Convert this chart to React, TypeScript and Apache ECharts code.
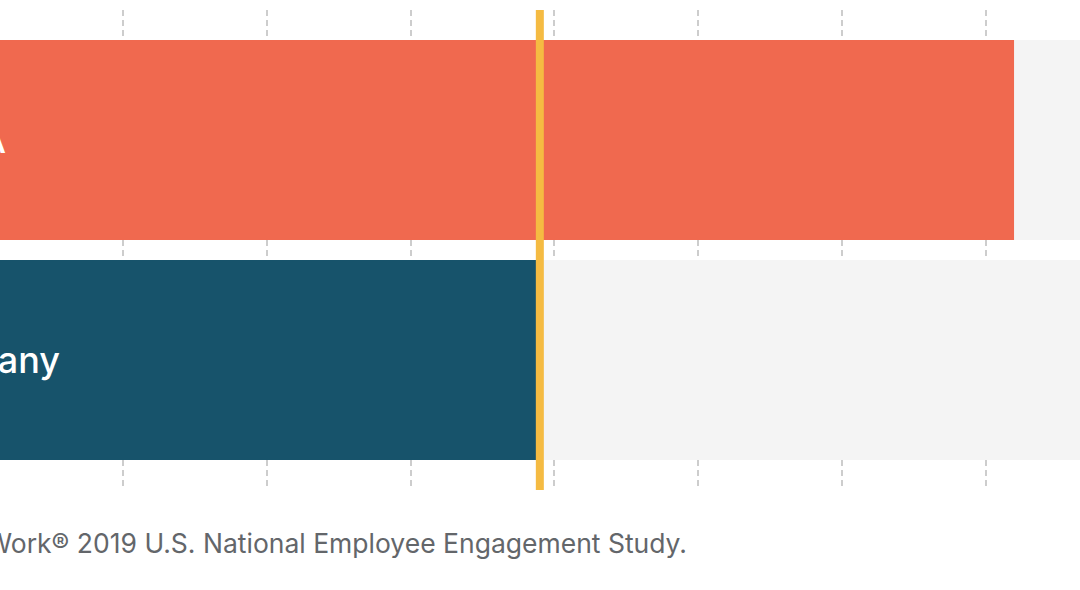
import React, { useEffect, useRef } from "react";
import * as echarts from "echarts";

// ---- data ----
const categories: string[] = ["Best Workplaces in the USA", "Typical U.S. Company"];
const values: number[] = [92, 59];
const averageValue = 59;
const axisMin = 0;
const axisMax = 100;
const axisInterval = 10;
const barColors: string[] = ["#F0694F", "#17536B"];
const footnote = "Source: Great Place to Work® 2019 U.S. National Employee Engagement Study.";

// ---- layout (chart canvas is wider than the viewport and shifted left) ----
const SHIFT = 400;
const CHART_W = 1600;
const CHART_H = 590;
const labelEnds = [314, 368];

export default function App() {
  const ref = useRef<HTMLDivElement>(null);

  useEffect(() => {
    if (!ref.current) return;
    const chart = echarts.init(ref.current, undefined, { renderer: "svg" });
    const option: any = {
      animation: false,
      backgroundColor: "#ffffff",
      grid: [
        { left: 92, right: 71, top: 10, bottom: 100 },
        { left: 92, right: 71, top: 30, bottom: 120 },
      ],
      xAxis: [
        {
          gridIndex: 0,
          type: "value",
          min: axisMin,
          max: axisMax,
          interval: axisInterval,
          axisLabel: { show: false },
          axisLine: { show: false },
          axisTick: { show: false },
          splitLine: {
            show: true,
            lineStyle: { color: "#CDCDCD", width: 2, type: [6, 4] },
          },
        },
        {
          gridIndex: 1,
          type: "value",
          min: axisMin,
          max: axisMax,
          interval: axisInterval,
          show: false,
          splitLine: { show: false },
        },
      ],
      yAxis: [
        { gridIndex: 0, type: "value", min: 0, max: 1, show: false, splitLine: { show: false } },
        {
          gridIndex: 1,
          type: "category",
          data: categories,
          inverse: true,
          show: false,
        },
      ],
      series: [
        {
          type: "bar",
          xAxisIndex: 1,
          yAxisIndex: 1,
          barWidth: 200,
          showBackground: true,
          backgroundStyle: { color: "#F4F4F4" },
          data: values.map((v, i) => ({
            value: v,
            itemStyle: { color: barColors[i] },
            label: {
              show: true,
              position: [labelEnds[i], "50%"],
              align: "right",
              verticalAlign: "middle",
              formatter: "{b}",
              color: "#ffffff",
              fontSize: 36,
              fontFamily: "Inter",
              fontWeight: 500,
            },
          })),
          z: 2,
        },
        {
          type: "line",
          xAxisIndex: 0,
          yAxisIndex: 0,
          data: [
            [averageValue, 0],
            [averageValue, 1],
          ],
          symbol: "none",
          lineStyle: { color: "#F5BB42", width: 8, cap: "butt" },
          silent: true,
          z: 10,
        },
      ],
      graphic: [
        {
          type: "text",
          x: SHIFT + 687,
          y: 543,
          style: {
            text: footnote,
            align: "right",
            verticalAlign: "middle",
            fill: "#63666A",
            font: "26.5px Inter",
          },
        },
      ],
    };
    chart.setOption(option);
    return () => chart.dispose();
  }, []);

  return (
    <div
      style={{
        position: "fixed",
        left: 0,
        top: 0,
        width: 1080,
        height: 590,
        overflow: "hidden",
        background: "#ffffff",
      }}
    >
      <div
        ref={ref}
        style={{ position: "absolute", left: -SHIFT, top: 0, width: CHART_W, height: CHART_H }}
      />
    </div>
  );
}
